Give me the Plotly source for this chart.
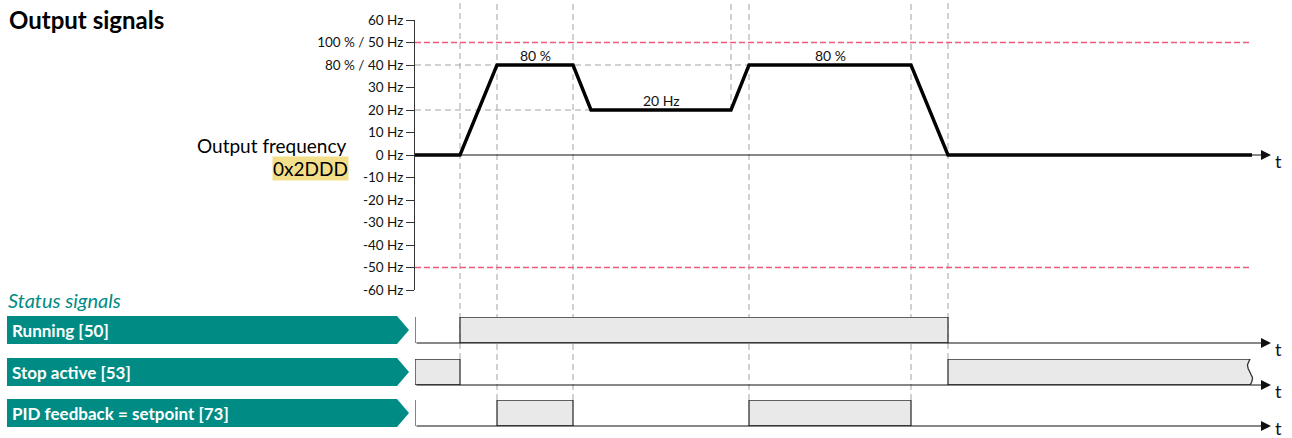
import numpy as np
import plotly.graph_objects as go

W, H = 1292, 438

# ---------------- data ----------------
freq_t = [0, 4.5, 8.2, 15.8, 17.6, 31.6, 33.4, 49.6, 53.3, 83.7]
freq_hz = [0, 0, 40, 40, 20, 20, 40, 40, 0, 0]
y_tickvals = [60, 50, 40, 30, 20, 10, 0, -10, -20, -30, -40, -50, -60]
y_ticktext = ["60 Hz", "100 % / 50 Hz", "80 % / 40 Hz", "30 Hz", "20 Hz", "10 Hz", "0 Hz",
              "-10 Hz", "-20 Hz", "-30 Hz", "-40 Hz", "-50 Hz", "-60 Hz"]
limit_hz = [50, -50]
guide_levels = [40, 20]          # horizontal grey guides
guide_until = [33.4, 17.6]       # time where each guide ends
level_labels = ["80 %", "20 Hz", "80 %"]
level_label_t = [12.0, 24.6, 41.5]
level_label_hz = [40, 20, 40]
t_end = 85.6
limit_end = 83.5

status_names = ["Running [50]", "Stop active [53]", "PID feedback = setpoint [73]"]
running_on = [(4.5, 53.3)]
stop_on = [(0, 4.5), (53.3, 83.5)]
pid_on = [(8.2, 15.8), (33.4, 49.6)]
status_on = [running_on, stop_on, pid_on]

# vertical event guides: time and how far down they reach
event_t = [4.5, 8.2, 15.8, 31.6, 33.4, 49.6, 53.3]
event_reach = ["stop", "pid", "pid", "20hz", "pid", "pid", "stop"]

# ---------------- layout helpers ----------------
def px(x):
    return x / W

def py(y):
    return 1 - y / H

TEAL = "#008C84"
BOX_FILL = "#E8E9E8"
BOX_LINE = "#333333"
GRID = "#A3A3A3"
RED = "#EC5A7C"
FONT = "Lato"

freq_dom = [py(290), py(20)]
rows_px = [(317, 343), (359, 385), (400, 426)]  # (top, baseline)
row_dom = [[py(b), py(t)] for t, b in rows_px]

fig = go.Figure()

# frequency curve
fig.add_trace(go.Scatter(x=freq_t, y=freq_hz, mode="lines",
                         line=dict(color="#000000", width=3.4),
                         xaxis="x", yaxis="y", hoverinfo="skip"))

# status rows
axes_names = ["y2", "y3", "y4"]
for i, on in enumerate(status_on):
    ya = axes_names[i]
    # left wall
    fig.add_trace(go.Scatter(x=[0, 0], y=[0, 1], mode="lines",
                             line=dict(color=BOX_LINE, width=1.2),
                             xaxis="x", yaxis=ya, hoverinfo="skip"))
    for (a, b) in on:
        if b >= limit_end and i == 1:
            yy = np.linspace(1, 0, 25)
            wave_x = list(b - 0.25 * np.sin(2 * np.pi * (1 - yy)))
            xs = [a, a] + wave_x + [a]
            ys = [0, 1] + list(yy) + [0]
        else:
            xs = [a, a, b, b, a]
            ys = [0, 1, 1, 0, 0]
        fig.add_trace(go.Scatter(x=xs, y=ys, mode="lines", fill="toself",
                                 fillcolor=BOX_FILL,
                                 line=dict(color=BOX_LINE, width=1.3),
                                 xaxis="x", yaxis=ya, hoverinfo="skip"))

shapes = []
# red limit lines
for lv in limit_hz:
    shapes.append(dict(type="line", xref="x", yref="y", x0=0, x1=limit_end, y0=lv, y1=lv,
                       line=dict(color=RED, width=1.5, dash="6px,3px"), layer="below"))
# grey guides
for lv, until in zip(guide_levels, guide_until):
    shapes.append(dict(type="line", xref="x", yref="y", x0=0, x1=until, y0=lv, y1=lv,
                       line=dict(color=GRID, width=1, dash="6px,4px"), layer="below"))

def hz_to_paper(v):
    return freq_dom[0] + (v + 60) / 120 * (freq_dom[1] - freq_dom[0])

for t, reach in zip(event_t, event_reach):
    if reach == "stop":
        y0 = row_dom[1][1]
    elif reach == "pid":
        y0 = row_dom[2][1]
    else:
        y0 = hz_to_paper(20)
    shapes.append(dict(type="line", xref="x", yref="paper", x0=t, x1=t, y0=y0, y1=1,
                       line=dict(color=GRID, width=1, dash="6px,4px"), layer="below"))

# teal banners
for (t, b) in rows_px:
    t1, b1 = t - 1, b + 1
    m = (t1 + b1) / 2
    path = (f"M {px(7)},{py(t1)} L {px(397)},{py(t1)} L {px(409)},{py(m)} "
            f"L {px(397)},{py(b1)} L {px(7)},{py(b1)} Z")
    shapes.append(dict(type="path", xref="paper", yref="paper", path=path,
                       fillcolor=TEAL, line=dict(width=0)))

annotations = []
# time axes with arrows
all_axes = ["y"] + axes_names
for k, ya in enumerate(all_axes):
    annotations.append(dict(x=t_end, y=0, ax=0, ay=0, xref="x", yref=ya, axref="x", ayref=ya,
                            showarrow=True, arrowhead=2, arrowsize=2, arrowwidth=1,
                            arrowcolor="#111111", text="", standoff=0))
    annotations.append(dict(x=t_end, y=0, xref="x", yref=ya, text="t", showarrow=False,
                            xanchor="left", yanchor="middle", xshift=2,
                            yshift=-6 if k < len(all_axes) - 1 else -2,
                            font=dict(size=18, color="#111111")))

for txt, tt, hz in zip(level_labels, level_label_t, level_label_hz):
    annotations.append(dict(x=tt, y=hz, xref="x", yref="y", text=txt, showarrow=False,
                            yanchor="bottom", yshift=-1, font=dict(size=14, color="#111111")))

annotations.append(dict(x=px(7), y=py(19), xref="paper", yref="paper", text="<b>Output signals</b>",
                        showarrow=False, xanchor="left", yanchor="middle",
                        font=dict(size=24, color="#000000")))
annotations.append(dict(x=px(349), y=py(146), xref="paper", yref="paper", text="Output frequency",
                        showarrow=False, xanchor="right", yanchor="middle",
                        font=dict(size=19, color="#000000")))
annotations.append(dict(x=px(349), y=py(168), xref="paper", yref="paper", text="0x2DDD",
                        showarrow=False, xanchor="right", yanchor="middle", bgcolor="#F3DF8A",
                        borderpad=0, font=dict(size=19, color="#000000")))
annotations.append(dict(x=px(6), y=py(300), xref="paper", yref="paper", text="<i>Status signals</i>",
                        showarrow=False, xanchor="left", yanchor="middle",
                        font=dict(size=20, color=TEAL)))
for name, (t, b) in zip(status_names, rows_px):
    annotations.append(dict(x=px(10), y=py((t + b) / 2), xref="paper", yref="paper",
                            text=f"<b>{name}</b>", showarrow=False, xanchor="left",
                            yanchor="middle", font=dict(size=17, color="#FFFFFF")))

layout_axes = dict(
    xaxis=dict(domain=[px(415), px(1271)], range=[0, t_end], visible=False, fixedrange=True),
    yaxis=dict(domain=freq_dom, range=[-60, 60], tickvals=y_tickvals, ticktext=y_ticktext,
               ticks="outside", ticklen=8, tickcolor="#333333", showline=True,
               linecolor="#333333", linewidth=1, showgrid=False, zeroline=False,
               tickfont=dict(size=13.5, color="#111111"), anchor="x", automargin=False,
               fixedrange=True),
)
for i, ya in enumerate(axes_names):
    layout_axes["yaxis" + ya[1:]] = dict(domain=row_dom[i], range=[0, 1], visible=False,
                                        anchor="x", fixedrange=True)

fig.update_layout(
    width=W, height=H, margin=dict(l=0, r=0, t=0, b=0, pad=0, autoexpand=False),
    paper_bgcolor="#FFFFFF", plot_bgcolor="rgba(0,0,0,0)",
    showlegend=False, font=dict(family=FONT, color="#111111"),
    shapes=shapes, annotations=annotations, **layout_axes,
)

fig.write_html("out.html", config={"displayModeBar": False, "staticPlot": True},
               post_script="document.body.style.margin='0';document.body.style.overflow='hidden';")
